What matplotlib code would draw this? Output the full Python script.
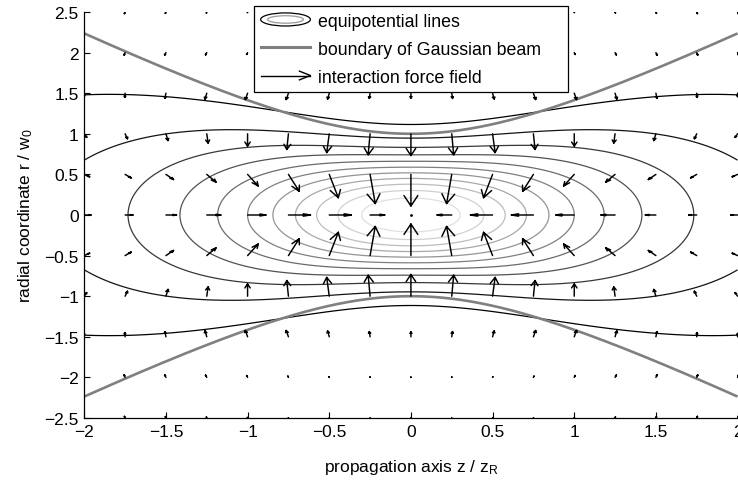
import numpy as np
import matplotlib
matplotlib.use("Agg")
import matplotlib.pyplot as plt
from matplotlib.patches import Ellipse
from matplotlib.lines import Line2D
from matplotlib.legend_handler import HandlerBase

plt.rcParams['font.family'] = ['Liberation Sans', 'DejaVu Sans']
plt.rcParams['mathtext.default'] = 'regular'

# Normalised coordinates: z in units of the Rayleigh length, r in units of the waist
z_arrows = [-2.0, -1.75, -1.5, -1.25, -1.0, -0.75, -0.5, -0.25, 0.0,
            0.25, 0.5, 0.75, 1.0, 1.25, 1.5, 1.75, 2.0]
r_arrows = [-2.5, -2.0, -1.5, -1.0, -0.5, 0.0, 0.5, 1.0, 1.5, 2.0, 2.5]

# Equipotential levels of the normalised intensity
levels = [1/12, 2/12, 3/12, 4/12, 5/12, 6/12, 7/12, 8/12, 9/12, 10/12, 11/12]
level_grays = [0.0, 0.08, 0.22, 0.32, 0.42, 0.5, 0.58, 0.66, 0.74, 0.82, 0.88]

x_ticks = [-2, -1.5, -1, -0.5, 0, 0.5, 1, 1.5, 2]
x_ticklabels = ['\u22122', '\u22121.5', '\u22121', '\u22120.5', '0', '0.5', '1', '1.5', '2']
y_ticks = [-2.5, -2, -1.5, -1, -0.5, 0, 0.5, 1, 1.5, 2, 2.5]
y_ticklabels = ['\u22122.5', '\u22122', '\u22121.5', '\u22121', '\u22120.5', '0',
                '0.5', '1', '1.5', '2', '2.5']

legend_labels = ['equipotential lines', 'boundary of Gaussian beam',
                 'interaction force field']

arrow_gain = 0.9          # data units per unit of index gradient
head_alpha, head_beta = 0.33, 0.33


def intensity(z, r):
    w2 = 1.0 + z ** 2
    return np.exp(-2.0 * r ** 2 / w2) / w2


fig = plt.figure(figsize=(7.38, 4.81), dpi=100)
ax = fig.add_axes([0.1142, 0.1289, 0.8852, 0.8441])

# equipotential contours
zc = np.linspace(-2, 2, 401)
rc = np.linspace(-2.5, 2.5, 501)
ZC, RC = np.meshgrid(zc, rc)
ax.contour(ZC, RC, intensity(ZC, RC), levels=levels,
           colors=[str(g) for g in level_grays], linewidths=0.9)

# beam boundary r = w(z)
wz = np.sqrt(1.0 + zc ** 2)
ax.plot(zc, wz, color='0.5', lw=1.9, solid_capstyle='butt')
ax.plot(zc, -wz, color='0.5', lw=1.9, solid_capstyle='butt')

# force field: index-unit gradient of the intensity on the coarse grid
ZA, RA = np.meshgrid(np.array(z_arrows), np.array(r_arrows))
IA = intensity(ZA, RA)
V, U = np.gradient(IA)
U = U * arrow_gain
V = V * arrow_gain
eps = 2.2e-16
xs, ys = [], []
for x, y, u, v in zip(ZA.ravel(), RA.ravel(), U.ravel(), V.ravel()):
    xs += [x, x + u, np.nan]
    ys += [y, y + v, np.nan]
    xs += [x + u - head_alpha * (u + head_beta * (v + eps)), x + u,
           x + u - head_alpha * (u - head_beta * (v + eps)), np.nan]
    ys += [y + v - head_alpha * (v - head_beta * (u + eps)), y + v,
           y + v - head_alpha * (v + head_beta * (u + eps)), np.nan]
ax.plot(xs, ys, color='k', lw=1.05, solid_capstyle='round')

# vanishing force at the focus shows as a dot
zero = (np.hypot(U, V) < 1e-9)
ax.plot(ZA[zero], RA[zero], 'k.', ms=2)

ax.set_xlim(-2, 2)
ax.set_ylim(-2.5, 2.5)
ax.set_xticks(x_ticks)
ax.set_xticklabels(x_ticklabels)
ax.set_yticks(y_ticks)
ax.set_yticklabels(y_ticklabels)
ax.tick_params(direction='in', length=4, width=0.8, labelsize=12.5, pad=4)
for side in ('top', 'right'):
    ax.spines[side].set_visible(False)
for side in ('left', 'bottom'):
    ax.spines[side].set_linewidth(0.9)

ax.set_xlabel('propagation axis z / z$_R$', fontsize=12.5, labelpad=13)
ax.set_ylabel('radial coordinate r / w$_0$', fontsize=12.5, labelpad=7)


class ContourKey:
    pass


class ArrowKey:
    pass


class EllipseHandler(HandlerBase):
    def create_artists(self, legend, orig_handle, xdescent, ydescent,
                       width, height, fontsize, trans):
        cx = -xdescent + width / 2
        cy = -ydescent + height / 2
        outer = Ellipse((cx, cy), width, height * 1.05, fill=False,
                        ec='k', lw=0.9, transform=trans)
        inner = Ellipse((cx, cy), width * 0.72, height * 0.6, fill=False,
                        ec='0.6', lw=0.9, transform=trans)
        return [outer, inner]


class ArrowHandler(HandlerBase):
    def create_artists(self, legend, orig_handle, xdescent, ydescent,
                       width, height, fontsize, trans):
        x0 = -xdescent
        x1 = -xdescent + width
        cy = -ydescent + height / 2
        hl = width * 0.22
        hw = height * 0.35
        shaft = Line2D([x0, x1], [cy, cy], color='k', lw=1.0, transform=trans)
        head = Line2D([x1 - hl, x1, x1 - hl], [cy + hw, cy, cy - hw],
                      color='k', lw=1.0, transform=trans)
        return [shaft, head]


beam_key = Line2D([], [], color='0.5', lw=2.2)
leg = fig.legend([ContourKey(), beam_key, ArrowKey()], legend_labels,
                 handler_map={ContourKey: EllipseHandler(),
                              ArrowKey: ArrowHandler()},
                 loc='upper left', bbox_to_anchor=(0.344, 0.813, 0.426, 0.1726),
                 bbox_transform=fig.transFigure, mode='expand',
                 fontsize=12.8, frameon=True, fancybox=False, framealpha=1,
                 edgecolor='k', borderpad=0.38, handlelength=2.8,
                 handletextpad=0.4, labelspacing=0.62, borderaxespad=0)
leg.get_frame().set_linewidth(0.9)

fig.savefig('out.png', dpi=100)
